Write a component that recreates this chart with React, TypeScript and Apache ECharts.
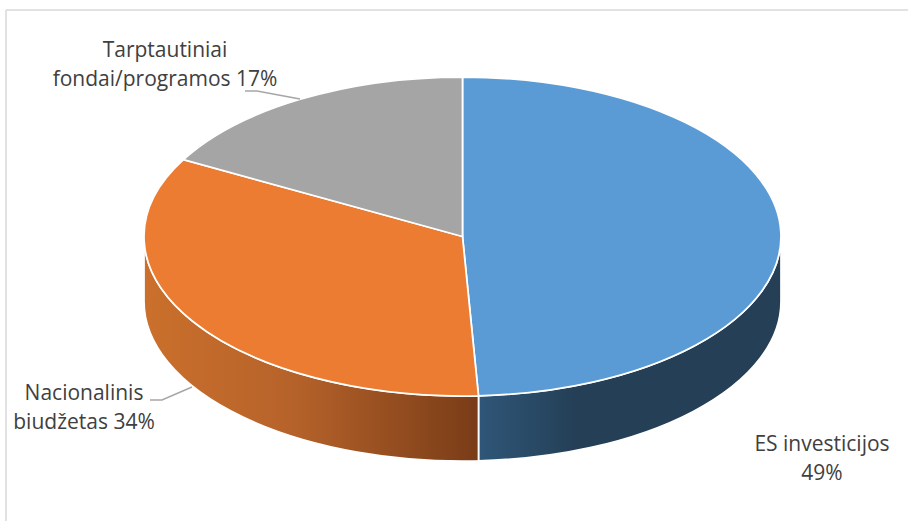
import React, { useEffect, useRef } from "react";
import * as echarts from "echarts";

const categories = ["ES investicijos", "Nacionalinis biudžetas", "Tarptautiniai fondai/programos"];
const values = [49.2, 33.8, 17];
const labelBreaks = [
  ["ES investicijos", ""],
  ["Nacionalinis", "biudžetas "],
  ["Tarptautiniai", "fondai/programos "],
];

const colors = ["#5B9BD5", "#EB7C31", "#A5A5A5"];
const sideStops = [
  [[0, "#2F5678"], [0.33, "#243F56"], [1, "#243F56"]],
  [[0, "#CB702C"], [0.45, "#B5622A"], [1, "#793C17"]],
  [[0, "#636363"], [1, "#636363"]],
];
const labelPos = [[822, 457], [84, 406.5], [165, 63]];
const leaders = [
  null,
  [[150, 400], [162, 400], [192, 387]],
  [[245, 91], [257, 91], [300, 99]],
];

const CX = 462.5, CY = 236.5, RX = 318.5, RY = 159.5, DEPTH = 65;
const total = values.reduce((a, b) => a + b, 0);

const px = (t: number) => CX + RX * Math.sin(t);
const py = (t: number, d = 0) => CY - RY * Math.cos(t) + d;

function renderItem(params: any) {
  const i = params.dataIndex;
  const before = values.slice(0, i).reduce((a, b) => a + b, 0);
  const a0 = (before / total) * Math.PI * 2;
  const a1 = ((before + values[i]) / total) * Math.PI * 2;
  const large = a1 - a0 > Math.PI ? 1 : 0;
  const children: any[] = [];

  // visible wall: the front half of the rim only
  const s0 = Math.max(a0, Math.PI / 2);
  const s1 = Math.min(a1, (Math.PI * 3) / 2);
  if (s1 > s0) {
    const d =
      `M${px(s0)} ${py(s0)} A${RX} ${RY} 0 0 1 ${px(s1)} ${py(s1)} ` +
      `L${px(s1)} ${py(s1, DEPTH)} A${RX} ${RY} 0 0 0 ${px(s0)} ${py(s0, DEPTH)} Z`;
    children.push({
      type: "path",
      shape: { pathData: d },
      style: {
        fill: new echarts.graphic.LinearGradient(
          0, 0, 1, 0,
          sideStops[i].map(([offset, color]) => ({ offset, color }))
        ),
        stroke: "#fff",
        lineWidth: 1.75,
      },
    });
  }

  const top = `M${CX} ${CY} L${px(a0)} ${py(a0)} A${RX} ${RY} 0 ${large} 1 ${px(a1)} ${py(a1)} Z`;
  children.push({
    type: "path",
    shape: { pathData: top },
    style: { fill: colors[i], stroke: "#fff", lineWidth: 1.75 },
  });

  const line = leaders[i];
  if (line) {
    children.push({
      type: "polyline",
      shape: { points: line },
      style: { fill: "none", stroke: "#A6A6A6", lineWidth: 1.5 },
      z2: 5,
    });
  }

  const pct = `${Math.round((values[i] / total) * 100)}%`;
  const [l1, l2] = labelBreaks[i];
  children.push({
    type: "text",
    x: labelPos[i][0],
    y: labelPos[i][1],
    z2: 6,
    style: {
      text: `${l1}\n${l2}${pct}`,
      fill: "#404040",
      font: '400 21px "Open Sans", sans-serif',
      lineHeight: 29,
      align: "center",
      verticalAlign: "middle",
    },
  });
  return { type: "group", children };
}

export default function App() {
  const ref = useRef<HTMLDivElement>(null);
  useEffect(() => {
    const chart = echarts.init(ref.current!, undefined, { renderer: "svg" });
    chart.setOption({
      animation: false,
      backgroundColor: "#fff",
      graphic: [
        { type: "line", shape: { x1: 6, y1: 10, x2: 908, y2: 10 }, style: { stroke: "#D9D9D9", lineWidth: 1.5 } },
        { type: "line", shape: { x1: 6, y1: 10, x2: 6, y2: 521 }, style: { stroke: "#D9D9D9", lineWidth: 1.5 } },
      ],
      series: [
        {
          type: "custom",
          coordinateSystem: "none",
          silent: true,
          renderItem,
          data: categories.map((name, i) => ({ name, value: values[i] })),
        },
      ],
    });
    return () => chart.dispose();
  }, []);
  return <div ref={ref} style={{ position: "absolute", left: 0, top: 0, width: 908, height: 521 }} />;
}
